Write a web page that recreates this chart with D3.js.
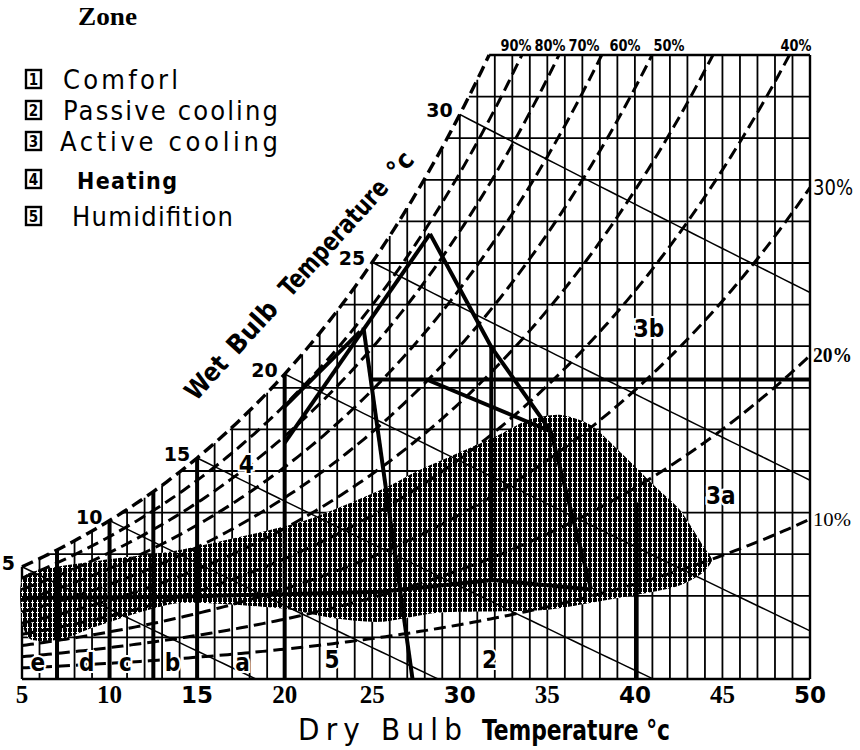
<!DOCTYPE html>
<html>
<head>
<meta charset="utf-8">
<script src="https://cdn.jsdelivr.net/npm/d3@7"></script>
<style>
    body { margin: 0; background: #fff; }
    svg { display: block; }
    .narrow { font-family: "Liberation Sans Narrow", "DejaVu Sans Condensed", sans-serif; }
    .heavy { font-family: "DejaVu Sans Condensed", "DejaVu Sans", sans-serif; font-stretch: condensed; font-weight: bold; }
    .serif { font-family: "Liberation Serif", "DejaVu Serif", serif; }
</style>
</head>
<body>
<div id="chart"></div>
<script>
// relative humidity curves (1.0 = saturation) and wet bulb lines
var rhLevels = [1.0, 0.9, 0.8, 0.7, 0.6, 0.5, 0.4, 0.3, 0.2, 0.1];
var wetBulbTemps = [5, 10, 15, 20, 25, 30];
var dryBulbTicks = [5, 10, 15, 20, 25, 30, 35, 40, 45, 50];
var serifTicks = [5, 10, 20, 25, 35, 45];
var topRhLabels = ["90%", "80%", "70%", "60%", "50%", "40%"];
var sideRh = [0.3, 0.2, 0.1];
var sideRhLabels = ["30%", "20%", "10%"];
var legendNums = ["1", "2", "3", "4", "5"];
var legendNames = ["Comforl", "Passive cooling", "Active cooling", "Heating", "Humidifition"];
var wetBulbTitle = ["Wet", "Bulb", "Temperature", "°c"];

// zone boundaries, [dry bulb °C, humidity ratio g/kg]
var zoneVerticalT = [7, 10, 12.5, 15, 20];
var lineL1 = [[20, 11.35], [28.3, 21.4]];
var lineL2 = [[20, 13.1], [24.3, 16.7]];
var lineS = [[24.5, 16.9], [27.3, 0]];
var lineP = [[28.3, 21.4], [31.8, 15.96], [35.2, 11.9]];
var lineV32 = [[31.8, 15.96], [31.8, 4.76]];
var lineH = [[24.9, 14.4], [50, 14.4]];
var lineD1 = [[28.1, 14.4], [35.2, 11.9], [37.5, 4.3]];
var lineV40 = [[40.1, 8.5], [40.1, 0]];
var lineB = [[5, 3.9], [14, 3.95], [25.5, 4.2], [31.9, 4.76], [37.5, 4.3]];

// stippled band of climate data
var stipple = [[5.2, 5.0], [9.5, 5.7], [14.0, 6.2], [20.9, 7.55], [25.5, 9.1], [27.7, 10.05],
    [31.9, 11.6], [33.9, 12.45], [35.7, 12.7], [37.5, 12.2], [39.3, 10.8], [41.1, 9.3],
    [42.6, 8.1], [43.9, 6.4], [44.4, 5.7], [43.7, 5.0], [42.2, 4.4], [38.4, 3.8],
    [34.6, 3.3], [28.9, 3.2], [25.5, 2.75], [22.6, 2.95], [19.7, 3.4], [14.0, 3.65],
    [9.5, 2.6], [7.2, 1.9], [5.5, 1.9], [5.0, 2.8]];

var zoneLabels = [
    {text: "3b", T: 40.8, W: 16.9}, {text: "3a", T: 44.9, W: 8.9},
    {text: "2", T: 31.7, W: 1.0}, {text: "5", T: 22.7, W: 1.0},
    {text: "4", T: 17.8, W: 10.4}, {text: "a", T: 17.6, W: 0.85},
    {text: "b", T: 13.6, W: 0.85}, {text: "c", T: 10.9, W: 0.85},
    {text: "d", T: 8.7, W: 0.85}, {text: "e", T: 5.9, W: 0.85}
];

var width = 860, height = 750;

var x = d3.scaleLinear().domain([5, 50]).range([22, 810]);
var y = d3.scaleLinear().domain([0, 30]).range([679, 55]);

// psychrometrics used for the chart grid
function pws(T) { return 0.61094 * Math.exp(17.625 * T / (T + 243.04)); }
function hum(T, rh) { var p = rh * pws(T); return 622 * p / (101.325 - p); }
function tempAt(w, rh) {
    var lo = -20, hi = 80;
    for (var i = 0; i < 60; i++) {
        var m = (lo + hi) / 2;
        if (hum(m, rh) < w) lo = m; else hi = m;
    }
    return lo;
}

var svg = d3.select("#chart").append("svg")
    .attr("width", width)
    .attr("height", height);

svg.append("rect").attr("width", width).attr("height", height).attr("fill", "#fff");

// halftone screen: black cells with small white crosses
var defs = svg.append("defs");
var pat = defs.append("pattern")
    .attr("id", "dots")
    .attr("width", 5).attr("height", 5)
    .attr("patternUnits", "userSpaceOnUse");
pat.append("rect").attr("width", 5).attr("height", 5).attr("fill", "#000");
pat.append("rect").attr("x", 1).attr("y", 2).attr("width", 3).attr("height", 1)
    .attr("fill", "#fff").attr("shape-rendering", "crispEdges");
pat.append("rect").attr("x", 2).attr("y", 0).attr("width", 1).attr("height", 5)
    .attr("fill", "#fff").attr("shape-rendering", "crispEdges");

var line = d3.line().x(function (d) { return x(d[0]); }).y(function (d) { return y(d[1]); });

var g = svg.append("g");

// grid: dry bulb verticals
g.append("g").selectAll("line")
    .data(d3.range(5, 51))
    .enter().append("line")
    .attr("x1", function (d) { return x(d); })
    .attr("x2", function (d) { return x(d); })
    .attr("y1", y(0))
    .attr("y2", function (d) { return y(Math.min(hum(d, 1), 30)); })
    .attr("stroke", "#000")
    .attr("stroke-width", function (d) { return d === 5 || d === 50 ? 2.4 : 1.8; });

// grid: humidity horizontals
g.append("g").selectAll("line")
    .data(d3.range(0, 31, 2))
    .enter().append("line")
    .attr("x1", function (d) { return x(Math.max(5, tempAt(d, 1))); })
    .attr("x2", x(50))
    .attr("y1", function (d) { return y(d); })
    .attr("y2", function (d) { return y(d); })
    .attr("stroke", "#000")
    .attr("stroke-width", function (d) { return d === 0 || d === 30 ? 2.6 : 1.8; });

// stippled region
g.append("path")
    .attr("d", d3.line().x(function (d) { return x(d[0]); }).y(function (d) { return y(d[1]); })
        .curve(d3.curveCardinalClosed.tension(0.3))(stipple))
    .attr("fill", "url(#dots)");

// wet bulb lines
g.append("g").selectAll("path")
    .data(wetBulbTemps)
    .enter().append("path")
    .attr("d", function (tw) {
        var ws = hum(tw, 1) / 1000;
        var t0 = tw + (2501 - 2.326 * tw) * ws / 1.006;
        var t1 = Math.min(50, t0);
        var pts = [];
        for (var T = tw; T <= t1 + 1e-9; T += 0.5) {
            var w = ((2501 - 2.326 * tw) * ws - 1.006 * (T - tw)) / (2501 + 1.86 * T - 4.186 * tw);
            pts.push([T, Math.max(0, w * 1000)]);
        }
        if (t0 < 50) pts.push([t0, 0]);
        return line(pts);
    })
    .attr("fill", "none")
    .attr("stroke", "#000")
    .attr("stroke-width", 1.5);

// relative humidity curves
g.append("g").selectAll("path")
    .data(rhLevels)
    .enter().append("path")
    .attr("d", function (rh) {
        var tEnd = Math.min(50, tempAt(30, rh));
        var pts = [];
        for (var T = 5; T < tEnd; T += 0.25) pts.push([T, hum(T, rh)]);
        pts.push([tEnd, Math.min(30, hum(tEnd, rh))]);
        return line(pts);
    })
    .attr("fill", "none")
    .attr("stroke", "#000")
    .attr("stroke-width", function (rh) { return rh === 1 ? 3.4 : 3; })
    .attr("stroke-dasharray", "12,6");

// heavy zone boundaries
var zoneLines = [lineL1, lineL2, lineS, lineP, lineV32, lineH, lineD1, lineV40, lineB];
zoneVerticalT.forEach(function (t) { zoneLines.push([[t, 0], [t, hum(t, 1)]]); });

g.append("g").selectAll("path")
    .data(zoneLines)
    .enter().append("path")
    .attr("d", line)
    .attr("fill", "none")
    .attr("stroke", "#000")
    .attr("stroke-width", 4)
    .attr("stroke-linejoin", "round");

// wet bulb labels on saturation curve
g.append("g").selectAll("text")
    .data(wetBulbTemps)
    .enter().append("text")
    .attr("x", function (d) { return x(d) - 7; })
    .attr("y", function (d) { return y(hum(d, 1)) + 3; })
    .attr("text-anchor", "end")
    .attr("font-family", "DejaVu Sans, sans-serif")
    .attr("font-weight", "bold")
    .attr("font-size", 19)
    .text(function (d) { return d; });

// dry bulb tick labels
g.append("g").selectAll("text")
    .data(dryBulbTicks)
    .enter().append("text")
    .attr("x", function (d) { return x(d); })
    .attr("y", 703)
    .attr("text-anchor", "middle")
    .attr("font-family", function (d) {
        return serifTicks.indexOf(d) >= 0 ? "Liberation Serif, serif" : "DejaVu Sans, sans-serif";
    })
    .attr("font-weight", "bold")
    .attr("font-size", function (d) { return serifTicks.indexOf(d) >= 0 ? 25 : 23; })
    .text(function (d) { return d; });

// top RH labels
var topLabelX = [516, 550, 584, 625, 669, 796];
g.append("g").selectAll("text")
    .data(topRhLabels)
    .enter().append("text")
    .attr("x", function (d, i) { return topLabelX[i]; })
    .attr("y", 51)
    .attr("text-anchor", "middle")
    .attr("class", "heavy")
    .attr("font-size", 16)
    .attr("textLength", 31)
    .attr("lengthAdjust", "spacingAndGlyphs")
    .text(function (d) { return d; });

// side RH labels
var sideStyle = [
    {cls: "narrow", size: 22, weight: "normal", len: 40},
    {cls: "serif", size: 20, weight: "bold", len: 39},
    {cls: "serif", size: 18, weight: "normal", len: 38}
];
g.append("g").selectAll("text")
    .data(sideRh)
    .enter().append("text")
    .attr("x", 813)
    .attr("y", function (d) { return y(hum(50, d)) + 7; })
    .attr("class", function (d, i) { return sideStyle[i].cls; })
    .attr("font-size", function (d, i) { return sideStyle[i].size; })
    .attr("font-weight", function (d, i) { return sideStyle[i].weight; })
    .attr("textLength", function (d, i) { return sideStyle[i].len; })
    .attr("lengthAdjust", "spacingAndGlyphs")
    .text(function (d, i) { return sideRhLabels[i]; });

// zone labels
g.append("g").selectAll("text")
    .data(zoneLabels)
    .enter().append("text")
    .attr("x", function (d) { return x(d.T); })
    .attr("y", function (d) { return y(d.W) + 10; })
    .attr("text-anchor", "middle")
    .attr("class", "heavy")
    .attr("font-size", 24)
    .attr("fill", "#000")
    .style("paint-order", "stroke")
    .attr("stroke", "#fff")
    .attr("stroke-width", 4)
    .text(function (d) { return d.text; });

// wet bulb axis title, one word at a time along the saturation curve
var titleOffset = [0, 62, 140, 300];
var titleLen = [50, 62, 148, 26];
var ang = -47.7 * Math.PI / 180;
svg.append("g").selectAll("text")
    .data(wetBulbTitle)
    .enter().append("text")
    .attr("transform", function (d, i) {
        var px = 196 + titleOffset[i] * Math.cos(ang);
        var py = 402 + titleOffset[i] * Math.sin(ang);
        return "translate(" + px + "," + py + ") rotate(-47.7)";
    })
    .attr("class", "heavy")
    .attr("font-size", 26)
    .attr("textLength", function (d, i) { return titleLen[i]; })
    .attr("lengthAdjust", "spacingAndGlyphs")
    .text(function (d) { return d; });

// dry bulb axis title
svg.append("text")
    .attr("x", 298).attr("y", 740)
    .attr("class", "narrow")
    .attr("font-size", 31)
    .attr("textLength", 164)
    .attr("lengthAdjust", "spacing")
    .text("Dry Bulb");
svg.append("text")
    .attr("x", 482).attr("y", 740)
    .attr("class", "heavy")
    .attr("font-size", 28)
    .attr("textLength", 188)
    .attr("lengthAdjust", "spacingAndGlyphs")
    .text("Temperature °c");

// legend
svg.append("text")
    .attr("x", 78).attr("y", 25)
    .attr("class", "serif")
    .attr("font-weight", "bold")
    .attr("font-size", 25)
    .attr("textLength", 59)
    .attr("lengthAdjust", "spacingAndGlyphs")
    .text("Zone");

var rowY = [79, 110, 141, 179, 216];
var rowX = [63, 63, 60, 77, 72];
var rowLen = [115, 215, 218, 100, 161];

var leg = svg.append("g").selectAll("g")
    .data(legendNames)
    .enter().append("g")
    .attr("transform", function (d, i) { return "translate(0," + rowY[i] + ")"; });

leg.append("rect")
    .attr("x", 26).attr("y", -9)
    .attr("width", 15).attr("height", 18)
    .attr("fill", "#fff")
    .attr("stroke", "#000")
    .attr("stroke-width", 2.4);

leg.append("text")
    .attr("x", 33.5).attr("y", 6)
    .attr("text-anchor", "middle")
    .attr("class", "heavy")
    .attr("font-size", 15)
    .text(function (d, i) { return legendNums[i]; });

leg.append("text")
    .attr("x", function (d, i) { return rowX[i]; })
    .attr("y", 10)
    .attr("class", function (d, i) { return i === 3 ? "heavy" : "narrow"; })
    .attr("font-size", function (d, i) { return i === 3 ? 23 : 27; })
    .attr("textLength", function (d, i) { return rowLen[i]; })
    .attr("lengthAdjust", "spacing")
    .text(function (d) { return d; });
</script>
</body>
</html>
